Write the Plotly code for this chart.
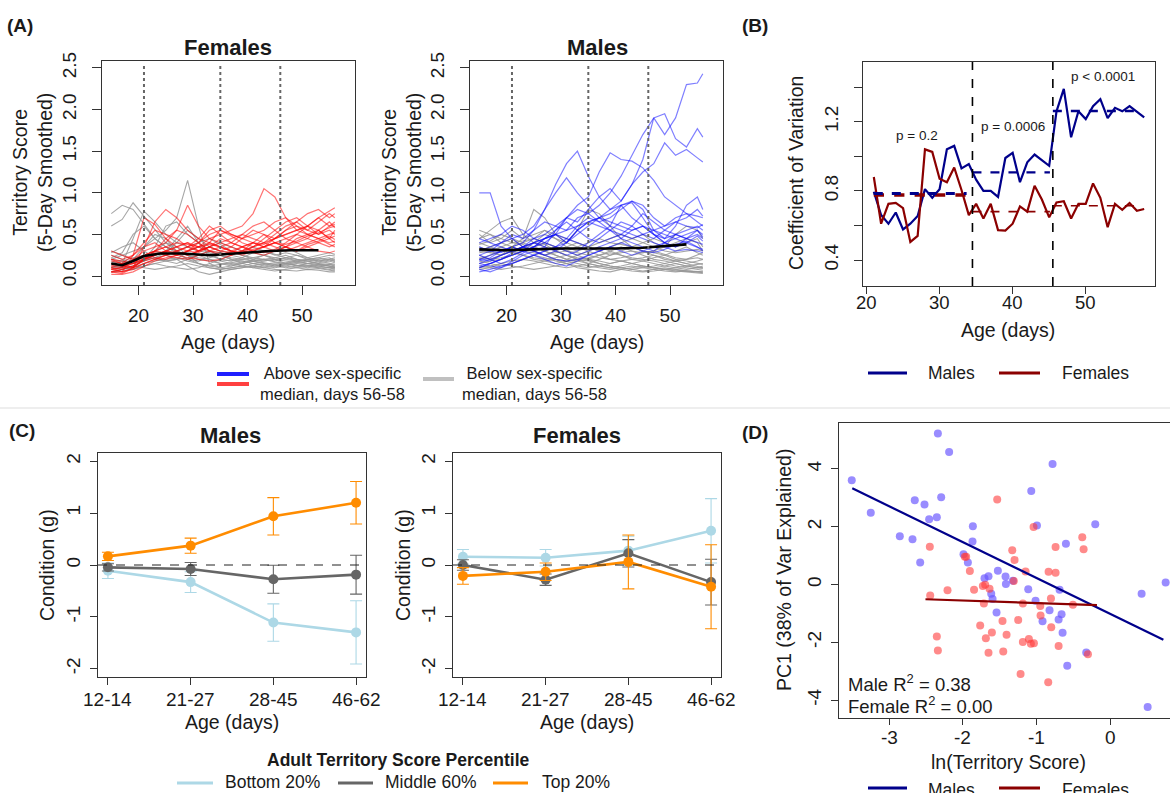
import plotly.graph_objects as go

# ---------------- data ----------------
# Panel A: individual territory-score trajectories (5-day smoothed)
ages_a = [15, 17, 19, 21, 23, 25, 27, 29, 31, 33, 35, 37, 39, 41, 43, 45, 47, 49, 51, 53, 55, 56]

female_below = [
    [.75, .85, .80, .62, .45, .35, .28, .20, .15, .12, .14, .16, .18, .15, .12, .10, .12, .10, .08, .09, .07, .06],
    [.60, .68, .88, .72, .55, .40, .30, .25, .20, .18, .15, .14, .16, .18, .20, .17, .15, .13, .12, .10, .10, .09],
    [.20, .25, .30, .35, .45, .55, .70, 1.15, .60, .15, .10, .12, .15, .18, .16, .14, .12, .15, .13, .12, .10, .11],
    [.10, .15, .45, .78, .65, .50, .40, .35, .30, .28, .25, .22, .20, .18, .20, .22, .25, .20, .18, .15, .14, .13],
    [.15, .12, .10, .20, .35, .60, .65, .50, .40, .30, .25, .20, .18, .15, .14, .16, .15, .13, .12, .14, .12, .11],
    [.25, .20, .15, .18, .22, .28, .40, .55, .45, .35, .30, .28, .25, .22, .20, .18, .22, .25, .20, .18, .20, .22],
    [.05, .08, .10, .15, .18, .20, .22, .18, .15, .12, .10, .08, .10, .12, .10, .08, .07, .06, .08, .07, .05, .05],
    [.18, .15, .20, .25, .30, .25, .20, .12, .05, .02, .05, .08, .10, .12, .15, .12, .10, .12, .15, .14, .12, .10],
    [.10, .12, .15, .20, .22, .25, .30, .35, .40, .45, .38, .30, .25, .20, .18, .20, .22, .18, .15, .16, .18, .20],
    [.30, .25, .20, .22, .25, .30, .28, .25, .22, .20, .18, .15, .12, .10, .12, .14, .16, .18, .20, .22, .25, .24],
    [.12, .10, .08, .12, .15, .18, .20, .22, .25, .20, .15, .12, .15, .20, .25, .30, .35, .28, .22, .18, .15, .14],
    [.08, .10, .12, .10, .08, .10, .12, .15, .12, .10, .08, .10, .12, .10, .08, .06, .08, .10, .12, .10, .08, .07],
    [.22, .28, .50, .60, .45, .35, .30, .25, .30, .35, .40, .35, .30, .28, .25, .22, .20, .18, .20, .22, .18, .16],
    [.15, .18, .22, .25, .20, .18, .15, .20, .25, .30, .28, .25, .30, .35, .30, .25, .28, .25, .22, .25, .28, .26],
    [.20, .18, .15, .20, .30, .40, .35, .25, .15, .10, .08, .10, .12, .15, .18, .20, .15, .12, .10, .12, .14, .12],
    [.05, .06, .08, .12, .15, .12, .10, .08, .10, .15, .20, .25, .22, .18, .15, .12, .14, .16, .18, .15, .12, .10],
    [.28, .35, .40, .30, .22, .18, .20, .30, .35, .28, .20, .18, .22, .28, .30, .26, .22, .20, .18, .20, .22, .18],
    [.10, .12, .20, .35, .50, .45, .30, .20, .18, .22, .25, .20, .15, .12, .10, .12, .15, .18, .15, .12, .10, .08],
    [.15, .10, .12, .18, .25, .30, .45, .60, .40, .25, .20, .18, .20, .22, .25, .20, .18, .16, .15, .18, .20, .17],
]
female_above = [
    [.10, .05, .25, .70, .62, .45, .35, .40, .30, .35, .30, .28, .35, .40, .35, .45, .50, .55, .60, .70, .78, .82],
    [.05, .03, .10, .35, .65, .80, .70, .55, .45, .40, .35, .30, .28, .35, .40, .50, .60, .65, .55, .50, .60, .65],
    [.12, .10, .20, .30, .35, .40, .55, .85, .60, .45, .40, .35, .30, .40, .35, .30, .35, .45, .50, .55, .45, .48],
    [.20, .15, .18, .25, .30, .35, .40, .38, .35, .45, .50, .55, .60, .75, 1.05, .95, .70, .55, .50, .45, .40, .42],
    [.08, .05, .10, .20, .25, .30, .35, .30, .28, .35, .45, .40, .35, .40, .50, .45, .55, .65, .75, .80, .70, .75],
    [.15, .12, .15, .22, .28, .25, .30, .35, .40, .50, .55, .48, .40, .35, .45, .55, .65, .70, .60, .50, .55, .50],
    [.30, .25, .20, .25, .30, .35, .30, .25, .30, .35, .30, .35, .45, .55, .50, .40, .35, .40, .45, .55, .65, .58],
    [.05, .05, .08, .15, .20, .25, .22, .20, .25, .30, .28, .25, .30, .35, .40, .35, .30, .35, .40, .45, .38, .35],
    [.18, .15, .10, .20, .25, .30, .35, .40, .35, .30, .25, .30, .35, .30, .28, .32, .40, .50, .45, .40, .45, .55],
    [.10, .08, .12, .18, .22, .20, .25, .30, .35, .40, .35, .30, .25, .30, .35, .40, .45, .40, .35, .30, .28, .30],
    [.25, .20, .25, .35, .40, .30, .25, .30, .40, .55, .60, .50, .45, .50, .55, .65, .70, .60, .55, .65, .75, .70],
    [.02, .02, .05, .12, .18, .22, .25, .22, .20, .18, .20, .25, .30, .28, .25, .30, .35, .30, .38, .42, .48, .44],
    [.12, .15, .25, .40, .55, .50, .45, .35, .30, .40, .55, .50, .45, .40, .38, .45, .55, .60, .50, .45, .50, .52],
    [.05, .08, .12, .20, .25, .30, .28, .25, .30, .35, .40, .45, .50, .45, .40, .45, .50, .55, .60, .55, .45, .40],
    [.20, .18, .15, .20, .30, .45, .55, .50, .40, .30, .35, .40, .50, .60, .65, .55, .45, .50, .60, .70, .60, .62],
    [.08, .10, .15, .25, .30, .28, .25, .30, .35, .38, .35, .30, .28, .32, .35, .40, .38, .42, .48, .52, .58, .60],
    [.15, .12, .10, .15, .20, .25, .30, .35, .45, .60, .50, .40, .35, .30, .35, .40, .35, .30, .35, .40, .35, .38],
]
female_mean_age = [15, 17, 19, 21, 24, 28, 33, 37, 40, 44, 48, 53]
female_mean = [0.15, 0.13, 0.18, 0.24, 0.27, 0.27, 0.25, 0.27, 0.28, 0.30, 0.31, 0.31]

male_below = [
    [.45, .55, .65, .70, .50, .40, .35, .30, .25, .20, .15, .12, .10, .12, .15, .18, .15, .12, .10, .08, .10, .12],
    [.50, .40, .45, .55, .45, .80, .70, .50, .40, .35, .30, .25, .20, .18, .15, .12, .10, .12, .15, .12, .10, .09],
    [.30, .35, .40, .45, .35, .40, .50, .45, .40, .55, .80, .75, .60, .45, .35, .30, .25, .20, .18, .15, .12, .10],
    [.25, .20, .22, .25, .30, .28, .25, .20, .18, .15, .12, .10, .08, .10, .12, .10, .08, .06, .05, .06, .05, .04],
    [.15, .18, .20, .25, .30, .35, .30, .25, .20, .25, .30, .35, .30, .25, .20, .18, .22, .25, .20, .18, .15, .14],
    [.40, .35, .30, .28, .25, .22, .20, .22, .25, .20, .18, .15, .12, .10, .08, .10, .12, .15, .12, .10, .08, .07],
    [.20, .25, .30, .35, .40, .35, .30, .25, .20, .18, .15, .20, .25, .30, .35, .40, .45, .40, .35, .40, .45, .35],
    [.10, .12, .15, .18, .20, .18, .15, .12, .10, .12, .15, .12, .10, .08, .06, .05, .06, .08, .07, .06, .05, .05],
    [.35, .30, .25, .30, .35, .30, .25, .30, .35, .40, .35, .30, .35, .40, .45, .50, .40, .35, .50, .60, .55, .45],
    [.28, .30, .35, .30, .25, .20, .18, .15, .18, .20, .22, .25, .28, .25, .22, .20, .18, .15, .18, .20, .22, .20],
    [.18, .15, .12, .15, .20, .25, .22, .18, .15, .12, .10, .12, .15, .18, .15, .12, .10, .08, .10, .12, .10, .10],
    [.45, .50, .40, .35, .30, .35, .40, .35, .30, .25, .20, .25, .30, .35, .30, .28, .30, .35, .40, .45, .40, .30],
    [.12, .10, .08, .10, .12, .15, .18, .20, .15, .10, .08, .06, .05, .08, .10, .12, .10, .08, .06, .05, .04, .03],
    [.32, .28, .35, .40, .38, .30, .25, .28, .30, .35, .40, .45, .40, .38, .35, .30, .28, .25, .30, .35, .28, .25],
    [.38, .42, .50, .45, .40, .45, .55, .50, .45, .40, .35, .30, .25, .28, .30, .25, .20, .18, .15, .12, .14, .15],
    [.22, .20, .25, .30, .35, .40, .38, .30, .25, .22, .20, .18, .15, .18, .20, .22, .25, .22, .18, .15, .18, .20],
    [.55, .50, .45, .40, .42, .45, .40, .35, .30, .28, .25, .22, .20, .22, .25, .28, .30, .26, .22, .20, .25, .28],
    [.08, .10, .15, .12, .10, .08, .10, .12, .15, .18, .20, .15, .12, .10, .08, .06, .08, .10, .08, .06, .05, .05],
    [.30, .28, .25, .35, .45, .50, .55, .45, .35, .30, .35, .40, .45, .50, .45, .40, .35, .30, .28, .30, .32, .30],
]
male_above = [
    [.25, .30, .28, .35, .30, .40, .35, .55, .70, .65, .80, .95, 1.05, .90, 1.10, 1.40, 1.90, 1.70, 1.90, 2.30, 2.32, 2.43],
    [.15, .20, .25, .30, .35, .45, .50, .60, .55, .70, .75, .85, 1.00, 1.20, 1.45, 1.70, 1.90, 1.95, 1.65, 1.55, 1.77, 1.67],
    [.10, .15, .20, .25, .30, .35, .45, .50, .40, .55, .65, .70, .80, .90, 1.10, 1.25, 1.35, 1.60, 1.45, 1.52, 1.42, 1.37],
    [.20, .25, .30, .35, .40, .55, .80, 1.10, 1.35, 1.50, 1.20, .95, .80, .85, .70, .60, .55, .50, .45, .40, .35, .32],
    [.10, .15, .20, .25, .30, .35, .40, .50, .70, .85, .95, 1.25, 1.48, 1.40, 1.38, 1.30, 1.15, .95, .85, .75, .65, .60],
    [.30, .35, .40, .45, .50, .60, .80, 1.00, 1.18, 1.00, .85, .70, .60, .55, .50, .45, .40, .35, .30, .32, .30, .28],
    [1.00, 1.00, .60, .45, .35, .30, .25, .20, .18, .20, .25, .30, .35, .30, .25, .30, .35, .40, .45, .50, .55, .47],
    [.20, .18, .25, .30, .35, .40, .45, .50, .55, .60, .65, .70, .75, .85, .90, .80, .55, .45, .60, .85, .95, .80],
    [.05, .08, .12, .15, .20, .25, .30, .35, .40, .55, .65, .60, .55, .50, .45, .50, .55, .60, .70, .75, .72, .70],
    [.15, .12, .10, .18, .25, .30, .35, .30, .25, .30, .40, .50, .60, .85, .88, .70, .50, .40, .35, .45, .55, .50],
    [.40, .45, .50, .60, .55, .45, .40, .35, .45, .60, .70, .65, .55, .45, .40, .35, .30, .40, .50, .45, .40, .38],
    [.08, .05, .10, .15, .20, .25, .20, .15, .12, .18, .25, .30, .35, .40, .35, .30, .28, .32, .38, .42, .35, .30],
    [.35, .30, .40, .50, .45, .55, .65, .60, .70, .80, .75, .65, .70, .80, .90, .85, .70, .60, .65, .70, .80, .72],
    [.12, .15, .20, .28, .35, .30, .25, .30, .40, .50, .60, .70, .65, .60, .55, .60, .50, .45, .50, .55, .60, .55],
    [.45, .40, .35, .30, .35, .40, .45, .55, .65, .55, .45, .40, .45, .50, .60, .75, .65, .55, .50, .45, .50, .45],
    [.18, .22, .30, .35, .30, .25, .30, .35, .30, .25, .30, .35, .40, .45, .55, .60, .50, .40, .35, .40, .48, .42],
    [.25, .20, .15, .20, .28, .35, .45, .50, .45, .40, .35, .45, .55, .65, .60, .50, .45, .55, .65, .60, .58, .62],
]
male_mean_age = [15, 20, 25, 30, 35, 40, 45, 50, 53]
male_mean = [0.32, 0.31, 0.32, 0.33, 0.33, 0.33, 0.34, 0.36, 0.38]
period_bounds_a = [21, 35, 46]
a_xticks = [20, 30, 40, 50]

# Panel B: coefficient of variation by age
cv_age = list(range(21, 59))
cv_males = [0.795, 0.66, 0.61, 0.675, 0.577, 0.61, 0.655, 0.81, 0.76, 0.81, 1.04, 1.06, 0.93, 0.955,
            0.865, 0.80, 0.80, 0.765, 0.99, 1.02, 0.85, 0.965, 1.01, 0.98, 0.945, 1.26, 1.39, 1.11,
            1.26, 1.215, 1.29, 1.33, 1.22, 1.28, 1.26, 1.29, 1.26, 1.225]
cv_females = [0.88, 0.61, 0.725, 0.73, 0.70, 0.505, 0.54, 1.04, 1.025, 0.87, 0.85, 0.935, 0.805, 0.66,
              0.725, 0.64, 0.725, 0.573, 0.57, 0.61, 0.71, 0.68, 0.83, 0.75, 0.647, 0.733, 0.74, 0.64,
              0.725, 0.725, 0.843, 0.76, 0.59, 0.725, 0.69, 0.73, 0.685, 0.695]
cv_breaks = [34.5, 45.5]
seg_start = [21, 34.5, 45.5]
seg_end = [33.7, 45.1, 57.6]
seg_male_mean = [0.785, 0.907, 1.262]
seg_female_mean = [0.776, 0.680, 0.714]
p_labels = ["p = 0.2", "p = 0.0006", "p < 0.0001"]
b_xticks = [20, 30, 40, 50]

# Panel C: condition by age class
c_groups = ["12-14", "21-27", "28-45", "46-62"]
c_pos = [1, 2, 3, 4]
m_bottom = [-0.11, -0.33, -1.11, -1.30]
m_bottom_se = [0.15, 0.20, 0.36, 0.61]
m_middle = [-0.045, -0.077, -0.276, -0.186]
m_middle_se = [0.07, 0.125, 0.27, 0.375]
m_top = [0.167, 0.373, 0.94, 1.20]
m_top_se = [0.08, 0.145, 0.36, 0.41]
f_bottom = [0.16, 0.14, 0.277, 0.66]
f_bottom_se = [0.14, 0.16, 0.28, 0.62]
f_middle = [0.0, -0.283, 0.225, -0.33]
f_middle_se = [0.10, 0.11, 0.265, 0.44]
f_top = [-0.21, -0.13, 0.06, -0.42]
f_top_se = [0.16, 0.17, 0.52, 0.81]

# Panel D: PC1 vs ln(territory score)
d_male_x = [-3.507, -3.249, -2.855, -2.683, -2.579, -2.652, -2.52, -2.457, -2.353, -2.339, -2.294, -2.186,
            -1.991, -1.932, -1.864, -1.869, -1.706, -1.652, -1.615, -1.597, -1.543, -1.525, -1.421, -1.416,
            -1.321, -1.113, -1.072, -1.014, -0.995, -0.919, -0.824, -0.783, -0.701, -0.688, -0.661, -0.647,
            -0.602, -0.584, -0.326, -0.204, 0.425, 0.507, 0.751]
d_male_y = [3.61, 2.48, 1.67, 1.57, 0.76, 2.92, 2.77, 2.26, 2.33, 5.23, 3.02, 4.59,
            1.05, 0.76, 2.02, 1.49, 0.22, 0.29, -0.32, -0.50, -0.97, 0.48, 0.28, 0.02,
            0.13, -0.16, 3.24, -0.56, 2.04, -1.27, -0.89, 4.17, -1.21, -0.18, -1.03, -1.67,
            1.41, -2.81, -2.35, 2.09, -0.32, -4.24, 0.07]
d_female_x = [-2.448, -2.443, -2.208, -2.353, -2.339, -1.973, -1.955, -1.905, -1.848, -1.765, -1.729, -1.697,
              -1.715, -1.688, -1.652, -1.638, -1.606, -1.534, -1.462, -1.452, -1.407, -1.330, -1.299, -1.308,
              -1.249, -1.217, -1.186, -1.186, -1.149, -1.104, -1.077, -1.036, -1.041, -0.950, -0.946, -0.842,
              -0.837, -0.805, -0.801, -0.742, -0.742, -0.701, -0.507, -0.380, -0.362, -0.303]
d_female_y = [1.31, -0.38, -0.20, -1.80, -2.28, 0.96, 0.96, 0.47, -0.18, -1.42, -0.05, -0.01,
              -0.66, -1.86, -2.36, -0.15, -1.66, 2.94, -1.26, -2.32, -1.74, 1.19, 0.85, 0.12,
              -1.23, -3.10, -0.66, -1.99, 0.45, -1.89, -2.05, -2.03, 1.99, -0.74, -1.07, -3.38,
              0.44, -0.48, -1.48, 1.30, 0.41, -2.13, -0.70, 1.64, 1.22, -2.41]
d_male_fit_x = [-3.50, 0.72]
d_male_fit_y = [3.33, -1.91]
d_female_fit_x = [-2.507, -0.181]
d_female_fit_y = [-0.51, -0.71]
d_xticks = [-3, -2, -1, 0]
d_xtext = ["-3", "-2", "-1", "0"]

# ---------------- styling ----------------
W, H = 1170, 793
FONT = "Liberation Sans, Arial, sans-serif"
TXT = "#1a1a1a"
AX = "#333333"
RED_L = "rgba(255,0,0,0.55)"
BLUE_L = "rgba(0,0,255,0.5)"
GRAY_L = "rgba(150,150,150,0.85)"
NAVY = "#00008b"
DRED = "#8b0000"
LBLUE = "#add8e6"
DGRAY = "#666666"
ORANGE = "#ff8c00"


def fx(p):
    return p / W


def fy(p):
    return 1 - p / H


def axis(**kw):
    d = dict(showline=True, linecolor=AX, linewidth=1, mirror=True, ticks="outside",
             ticklen=9, tickwidth=1, tickcolor=AX, showgrid=False, zeroline=False, automargin=False,
             tickfont=dict(family=FONT, size=19, color=TXT), ticklabelstandoff=4)
    d.update(kw)
    return d


fig = go.Figure()


def add_line(x, y, ax, color, width=1.2, dash=None, mode="lines", **kw):
    line = dict(color=color, width=width)
    if dash:
        line["dash"] = dash
    fig.add_trace(go.Scatter(x=x, y=y, mode=mode, line=line, xaxis="x" + ax, yaxis="y" + ax,
                             showlegend=False, hoverinfo="skip", **kw))


# Panel A
for series, ax in [((female_below, female_above, RED_L, female_mean_age, female_mean), ""),
                   ((male_below, male_above, BLUE_L, male_mean_age, male_mean), "2")]:
    below, above, col, mage, mval = series
    for ys in below:
        add_line(ages_a, ys, ax, GRAY_L, 1.1)
    for ys in above:
        add_line(ages_a, ys, ax, col, 1.2)
    add_line(mage, mval, ax, "black", 2.6)

# Panel B
add_line(cv_age, cv_males, "3", NAVY, 2.2)
add_line(cv_age, cv_females, "3", DRED, 2.2)
for i in range(3):
    wm = 3 if i == 0 else 2.4
    wf = 3.4 if i == 0 else 1.6
    add_line([seg_start[i], seg_end[i]], [seg_female_mean[i]] * 2, "3", DRED, wf, dash="dash")
    add_line([seg_start[i], seg_end[i]], [seg_male_mean[i]] * 2, "3", NAVY, wm, dash="dash")

# Panel C
for ax, groups in [("4", [(m_bottom, m_bottom_se, LBLUE), (m_middle, m_middle_se, DGRAY), (m_top, m_top_se, ORANGE)]),
                   ("5", [(f_bottom, f_bottom_se, LBLUE), (f_middle, f_middle_se, DGRAY), (f_top, f_top_se, ORANGE)])]:
    for vals, se, col in groups:
        fig.add_trace(go.Scatter(x=c_pos, y=vals, mode="lines+markers",
                                 line=dict(color=col, width=2.6),
                                 marker=dict(color=col, size=10),
                                 error_y=dict(type="data", array=se, color=col, thickness=1.1, width=6),
                                 xaxis="x" + ax, yaxis="y" + ax, showlegend=False, hoverinfo="skip"))

# Panel D
fig.add_trace(go.Scatter(x=d_male_x, y=d_male_y, mode="markers",
                         marker=dict(color="rgba(105,85,255,0.68)", size=8),
                         xaxis="x6", yaxis="y6", showlegend=False, hoverinfo="skip"))
fig.add_trace(go.Scatter(x=d_female_x, y=d_female_y, mode="markers",
                         marker=dict(color="rgba(255,60,60,0.6)", size=8),
                         xaxis="x6", yaxis="y6", showlegend=False, hoverinfo="skip"))
add_line(d_male_fit_x, d_male_fit_y, "6", NAVY, 2.2)
add_line(d_female_fit_x, d_female_fit_y, "6", DRED, 2.2)

# ---------------- axes ----------------
a_yticks = [0, 0.5, 1.0, 1.5, 2.0, 2.5]
a_ytext = ["0.0", "0.5", "1.0", "1.5", "2.0", "2.5"]
minor_b = dict(tickvals=[0.6, 1.0, 1.4], ticks="outside", ticklen=8, tickwidth=1, tickcolor=AX, showgrid=False)
layout = dict(
    width=W, height=H, margin=dict(l=0, r=0, t=0, b=0, pad=0), autosize=False,
    paper_bgcolor="white", plot_bgcolor="white",
    font=dict(family=FONT, color=TXT),
    xaxis=axis(domain=[fx(102), fx(355)], range=[13.3, 59.7], tickvals=a_xticks, anchor="y"),
    yaxis=axis(domain=[fy(285), fy(61)], range=[-0.108, 2.584], tickvals=a_yticks, ticktext=a_ytext,
               tickangle=-90, anchor="x", ticklabelstandoff=8),
    xaxis2=axis(domain=[fx(470), fx(723)], range=[13.3, 59.7], tickvals=a_xticks, anchor="y2"),
    yaxis2=axis(domain=[fy(285), fy(61)], range=[-0.108, 2.584], tickvals=a_yticks, ticktext=a_ytext,
                tickangle=-90, anchor="x2", ticklabelstandoff=8),
    xaxis3=axis(domain=[fx(863), fx(1155)], range=[19.52, 59.48], tickvals=b_xticks, anchor="y3",
                ticklen=7, showticklabels=False),
    yaxis3=axis(domain=[fy(286), fy(62)], range=[0.25, 1.545], tickvals=[0.4, 0.8, 1.2],
                ticktext=["0.4", "0.8", "1.2"], tickangle=-90, anchor="x3", ticklabelstandoff=8,
                ticklen=8, minor=minor_b),
    xaxis4=axis(domain=[fx(98), fx(366)], range=[0.88, 4.12], tickvals=c_pos, anchor="y4",
                ticklen=7, showticklabels=False),
    yaxis4=axis(domain=[fy(677), fy(453)], range=[-2.16, 2.16], tickvals=[-2, -1, 0, 1, 2],
                ticktext=["-2", "-1", "0", "1", "2"], tickangle=-90, anchor="x4", ticklen=7,
                ticklabelstandoff=2),
    xaxis5=axis(domain=[fx(453), fx(721)], range=[0.88, 4.12], tickvals=c_pos, anchor="y5",
                ticklen=7, showticklabels=False),
    yaxis5=axis(domain=[fy(677), fy(453)], range=[-2.16, 2.16], tickvals=[-2, -1, 0, 1, 2],
                ticktext=["-2", "-1", "0", "1", "2"], tickangle=-90, anchor="x5", ticklen=7,
                ticklabelstandoff=2),
    xaxis6=axis(domain=[fx(839), 1.0], range=[-3.68, 0.81], tickvals=d_xticks, anchor="y6",
                ticklen=6, showticklabels=False),
    yaxis6=axis(domain=[fy(718), fy(423)], range=[-4.62, 5.59], tickvals=[-4, -2, 0, 2, 4],
                ticktext=["-4", "-2", "0", "2", "4"], tickangle=-90, anchor="x6", mirror=False,
                ticklen=7, ticklabelstandoff=2),
)
fig.update_layout(**layout)

shapes = []
# Panel A dotted period boundaries
for ax in ["", "2"]:
    for b in period_bounds_a:
        shapes.append(dict(type="line", xref="x" + ax, yref="y" + ax, x0=b, x1=b, y0=-0.108, y1=2.53,
                           line=dict(color="#666666", width=2, dash="dot")))
# Panel B dashed breaks
for b in cv_breaks:
    shapes.append(dict(type="line", xref="x3", yref="y3 domain", x0=b, x1=b, y0=0, y1=1,
                       line=dict(color="black", width=1.6, dash="dash")))
# Panel C zero lines
for ax in ["4", "5"]:
    shapes.append(dict(type="line", xref="x" + ax + " domain", yref="y" + ax, x0=0, x1=1, y0=0, y1=0,
                       line=dict(color="#222222", width=1, dash="dash")))
# separator
shapes.append(dict(type="line", xref="paper", yref="paper", x0=0, x1=1, y0=fy(408), y1=fy(408),
                   line=dict(color="#dddddd", width=1)))


def legline(x0, x1, y, color, width):
    shapes.append(dict(type="line", xref="paper", yref="paper", x0=fx(x0), x1=fx(x1), y0=fy(y), y1=fy(y),
                       line=dict(color=color, width=width)))


# Panel A legend
legline(217, 249, 374, "#2020ff", 4)
legline(217, 249, 384, "#ff4040", 4)
legline(423, 454, 379, "#c0c0c0", 4)
# Panel B legend
legline(868, 907, 373, NAVY, 3)
legline(999, 1040, 373, DRED, 3)
# Panel C legend
legline(177, 213, 783, LBLUE, 3)
legline(338, 373, 783, DGRAY, 3)
legline(493, 528, 783, ORANGE, 3)
# Panel D legend
legline(868, 907, 788, NAVY, 3)
legline(999, 1040, 788, DRED, 3)

ann = []


def text(x, y, s, size, bold=False, xanchor="center", yanchor="middle", angle=0):
    if bold:
        s = "<b>" + s + "</b>"
    ann.append(dict(xref="paper", yref="paper", x=fx(x), y=fy(y), text=s, showarrow=False,
                    xanchor=xanchor, yanchor=yanchor, textangle=angle,
                    font=dict(family=FONT, size=size, color=TXT)))


def xtick_labels(axref, vals, labels, ypix, size=19):
    for v, lab in zip(vals, labels):
        ann.append(dict(xref=axref, yref="paper", x=v, y=fy(ypix), text=lab, showarrow=False,
                        xanchor="center", yanchor="middle",
                        font=dict(family=FONT, size=size, color=TXT)))


# x tick labels drawn at the axes' tick positions
xtick_labels("x3", b_xticks, [str(v) for v in b_xticks], 302, 18.5)
xtick_labels("x4", c_pos, c_groups, 699)
xtick_labels("x5", c_pos, c_groups, 699)
xtick_labels("x6", d_xticks, d_xtext, 737)

# panel letters
text(20, 25, "(A)", 19, True)
text(755, 25, "(B)", 19, True)
text(22, 430, "(C)", 19, True)
text(755, 432, "(D)", 19, True)
# titles
text(228, 47, "Females", 22, True)
text(597, 47, "Males", 22, True)
text(230, 436, "Males", 22, True)
text(577, 436, "Females", 22, True)
# axis titles
text(33, 173, "Territory Score<br>(5-Day Smoothed)", 19.5, angle=-90)
text(402, 173, "Territory Score<br>(5-Day Smoothed)", 19.5, angle=-90)
text(796, 173, "Coefficient of Variation", 19.5, angle=-90)
text(47, 565, "Condition (g)", 19.5, angle=-90)
text(403, 565, "Condition (g)", 19.5, angle=-90)
text(784, 570, "PC1 (38% of Var Explained)", 19.5, angle=-90)
text(228, 342, "Age (days)", 19.5)
text(597, 342, "Age (days)", 19.5)
text(1008, 330, "Age (days)", 19.5)
text(232, 722, "Age (days)", 19.5)
text(587, 722, "Age (days)", 19.5)
text(1008, 762, "ln(Territory Score)", 19.5)
# p-values
text(917, 136, p_labels[0], 13.5)
text(1013, 126, p_labels[1], 13.5)
text(1103, 77, p_labels[2], 13.5)
# R2
text(846, 683, "Male R<sup>2</sup> = 0.38", 18.5, xanchor="left")
text(846, 705, "Female R<sup>2</sup> = 0.00", 18.5, xanchor="left")
# legends
text(258, 383, "Above sex-specific<br>median, days 56-58", 16.5, xanchor="left")
text(460, 383, "Below sex-specific<br>median, days 56-58", 16.5, xanchor="left")
text(926, 373, "Males", 17.5, xanchor="left")
text(1060, 373, "Females", 17.5, xanchor="left")
text(398, 760, "Adult Territory Score Percentile", 17.5, True)
text(223, 782, "Bottom 20%", 17.5, xanchor="left")
text(383, 782, "Middle 60%", 17.5, xanchor="left")
text(540, 782, "Top 20%", 17.5, xanchor="left")
text(926, 790, "Males", 17.5, xanchor="left")
text(1060, 790, "Females", 17.5, xanchor="left")

fig.update_layout(shapes=shapes, annotations=ann)
fig.write_html("out.html", config={"responsive": False, "displayModeBar": False},
               post_script="document.body.style.margin='0px';document.body.style.overflow='hidden';")
